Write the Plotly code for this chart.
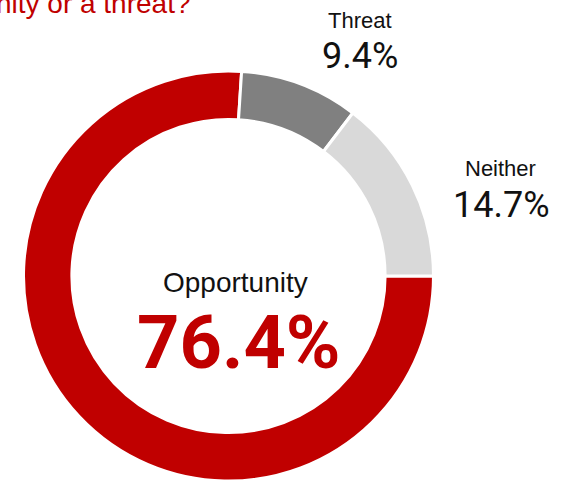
import plotly.graph_objects as go

# Survey answer shares (%)
labels = ["Opportunity", "Threat", "Neither"]
shares = [76.4, 9.4, 14.7]
colors = ["#C00000", "#808080", "#D9D9D9"]

W, H = 561, 481
WORD_FONT = "Liberation Sans, Arial, sans-serif"
NUM_FONT = "Roboto, Liberation Sans, sans-serif"

fig = go.Figure(
    go.Pie(
        labels=labels,
        values=shares,
        hole=0.764,
        sort=False,
        direction="clockwise",
        rotation=90,
        marker=dict(colors=colors, line=dict(color="white", width=3)),
        textinfo="none",
        hoverinfo="label+percent",
        domain=dict(x=[0.0419, 0.7727], y=[0.0, 0.8524]),
        showlegend=False,
    )
)


def px(x, y):
    """Convert pixel coordinates (top-left origin) to paper coordinates."""
    return x / W, 1 - y / H


annotations = []


def add_text(text, x, y, size, color="#111111", family=WORD_FONT, xanchor="center", bold=False):
    ax, ay = px(x, y)
    if bold:
        text = f"<b>{text}</b>"
    annotations.append(
        dict(
            text=text, x=ax, y=ay, xref="paper", yref="paper",
            xanchor=xanchor, yanchor="middle", showarrow=False,
            font=dict(family=family, size=size, color=color),
        )
    )


# Heading, partly outside the visible area
add_text("opportunity or a threat?", 193, 3, 28, color="#C00000", xanchor="right")

# Outer slice labels
add_text(labels[1], 359.5, 20.5, 22)
add_text(f"{shares[1]}%", 359.5, 56.5, 36, family=NUM_FONT)
add_text(labels[2], 500, 169, 22)
add_text(f"{shares[2]}%", 501, 205.5, 36, family=NUM_FONT)

# Centre label for the dominant slice
add_text(labels[0], 235.5, 282, 28)
add_text(f"{shares[0]}%", 238.5, 342.5, 74, color="#C00000", family=NUM_FONT, bold=True)

fig.update_layout(
    width=W,
    height=H,
    margin=dict(l=0, r=0, t=0, b=0),
    paper_bgcolor="white",
    plot_bgcolor="white",
    annotations=annotations,
)

fig.write_html("out.html")
